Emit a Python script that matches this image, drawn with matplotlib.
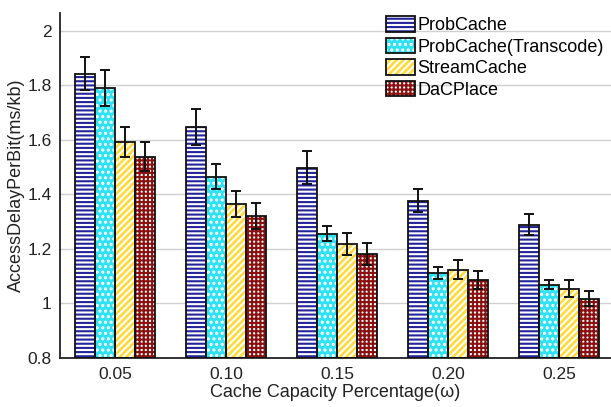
import matplotlib
matplotlib.use("Agg")
import matplotlib.pyplot as plt
import numpy as np

plt.rcParams['font.family'] = ['Liberation Sans', 'DejaVu Sans']
plt.rcParams['hatch.linewidth'] = 1.5

categories = ["0.05", "0.10", "0.15", "0.20", "0.25"]
series_names = ["ProbCache", "ProbCache(Transcode)", "StreamCache", "DaCPlace"]
probcache = [1.842, 1.648, 1.497, 1.376, 1.288]
probcache_tc = [1.790, 1.464, 1.255, 1.112, 1.068]
streamcache = [1.593, 1.365, 1.218, 1.123, 1.053]
dacplace = [1.538, 1.321, 1.180, 1.086, 1.016]
probcache_err = [0.060, 0.066, 0.060, 0.042, 0.040]
probcache_tc_err = [0.066, 0.046, 0.028, 0.022, 0.018]
streamcache_err = [0.055, 0.048, 0.040, 0.035, 0.032]
dacplace_err = [0.053, 0.048, 0.042, 0.033, 0.027]

values = [probcache, probcache_tc, streamcache, dacplace]
errors = [probcache_err, probcache_tc_err, streamcache_err, dacplace_err]
styles = [
    dict(face='white', hatchc='#24249a', hatch='----'),
    dict(face='#2ee2f4', hatchc='white', hatch='...'),
    dict(face='#ffda3a', hatchc='white', hatch='/////'),
    dict(face='white', hatchc='#8a1010', hatch='++++'),
]

fig = plt.figure(figsize=(6.11, 4.07), dpi=100)
ax = fig.add_axes([60/611, (407-357.5)/407, (611-60)/611, (357.5-13)/407])

x = np.arange(1, len(categories) + 1)
bw = 0.18
base = 0.8
handles = []
for i, (vals, errs, st) in enumerate(zip(values, errors, styles)):
    pos = x + (i - 1.5) * bw
    heights = np.array(vals) - base
    ax.bar(pos, heights, bw, bottom=base, color=st['face'], edgecolor=st['hatchc'],
           hatch=st['hatch'], linewidth=0, zorder=2)
    ax.bar(pos, heights, bw, bottom=base, facecolor='none', edgecolor='#111111',
           linewidth=1.3, zorder=3)
    ax.errorbar(pos, vals, yerr=errs, fmt='none', ecolor='#111111', elinewidth=1.4,
                capsize=3.5, capthick=1.4, zorder=4)
    h = matplotlib.patches.Rectangle((0, 0), 1, 1, facecolor=st['face'], edgecolor=st['hatchc'],
                                     hatch=st['hatch'], linewidth=0)
    h2 = matplotlib.patches.Rectangle((0, 0), 1, 1, facecolor='none', edgecolor='#111111', linewidth=1.3)
    handles.append((h, h2))

ax.set_xlim(1 - 55/110.75, 5 + 52/110.75)
ax.set_ylim(0.8, 2.065)
ax.set_yticks([0.8, 1.0, 1.2, 1.4, 1.6, 1.8, 2.0])
ax.set_yticklabels(["0.8", "1", "1.2", "1.4", "1.6", "1.8", "2"])
ax.set_xticks(x)
ax.set_xticklabels(categories)
ax.tick_params(axis='both', length=0, labelsize=12.5, colors='#222222', pad=6)
ax.tick_params(axis='x', pad=7)
ax.yaxis.grid(True, color='#d0d0d0', linewidth=1.0, zorder=0)
ax.set_axisbelow(True)
for s in ['top', 'right']:
    ax.spines[s].set_visible(False)
for s in ['left', 'bottom']:
    ax.spines[s].set_linewidth(1.3)
    ax.spines[s].set_color('#222222')

ax.set_xlabel("Cache Capacity Percentage(ω)", fontsize=13, labelpad=1, color='#222222')
ax.set_ylabel("AccessDelayPerBit(ms/kb)", fontsize=13, labelpad=2, color='#222222')

leg = ax.legend(handles, series_names, loc='upper right', bbox_to_anchor=(1.0, 1.012),
                frameon=False, fontsize=13, handlelength=1.6, handleheight=0.95,
                handletextpad=0.15, labelspacing=0.2, borderaxespad=0.0)

fig.savefig("out.png", dpi=100)
